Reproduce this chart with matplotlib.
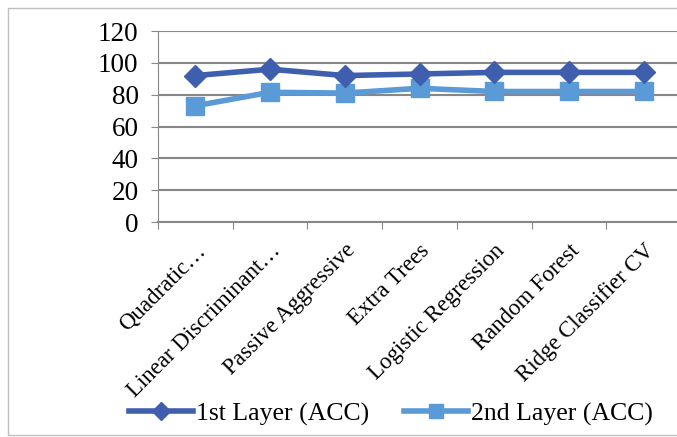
import matplotlib
matplotlib.use("Agg")
import matplotlib.pyplot as plt
from matplotlib.patches import Rectangle

categories = ["Quadratic\u2026", "Linear Discriminant\u2026", "Passive Aggressive",
              "Extra Trees", "Logistic Regression", "Random Forest", "Ridge Classifier CV"]
layer1_acc = [92, 96, 92, 93, 94, 94, 94]
layer2_acc = [73, 81.5, 81, 84, 82, 82, 82]

plt.rcParams['font.family'] = ['Liberation Serif', 'DejaVu Serif']

fig = plt.figure(figsize=(6.77, 4.37), dpi=100)
ax = fig.add_axes([158 / 677, 1 - 222 / 437, (681 - 158) / 677, (222 - 31) / 437])

x = list(range(len(categories)))
ax.plot(x, layer1_acc, color='#3F5FAE', lw=4, marker='D', ms=11,
        label='1st Layer (ACC)', zorder=4)
ax.plot(x, layer2_acc, color='#5A9AD6', lw=4, marker='s', ms=12.5,
        label='2nd Layer (ACC)', zorder=3)

ax.set_xlim(-0.5, len(categories) - 0.5)
ax.set_ylim(0, 120)
ax.set_yticks(range(0, 121, 20))
ax.yaxis.grid(True, color='#878787', lw=1.5)
ax.set_axisbelow(True)

# category boundaries as ticks, labels at centers
ax.set_xticks([i - 0.5 for i in x])
ax.set_xticklabels([])
ax.set_xticks(x, minor=True)
ax.set_xticklabels(categories, minor=True, rotation=45, ha='right',
                   rotation_mode='anchor', fontsize=16.5)
ax.tick_params(axis='x', which='minor', length=0, pad=13)
ax.tick_params(axis='x', which='major', length=5, color='#878787')
ax.tick_params(axis='y', length=5, color='#878787', labelsize=19.5, pad=9)

for side in ['top', 'right']:
    ax.spines[side].set_visible(False)
ax.spines['left'].set_color('#878787')
ax.spines['bottom'].set_color('#878787')
ax.spines['bottom'].set_linewidth(1.5)

fig.legend(loc='center', bbox_to_anchor=(391 / 677, 1 - 414 / 437), ncol=2,
           frameon=False, fontsize=18.5, handlelength=2.5, columnspacing=1.35,
           handletextpad=0.12, markerscale=0.8)

fig.patches.append(Rectangle((8 / 677, 1 - 435 / 437), 1.0, (435 - 8) / 437,
                             transform=fig.transFigure, fill=False,
                             edgecolor='#bfbfbf', lw=1))

fig.savefig('out.png', dpi=100)
